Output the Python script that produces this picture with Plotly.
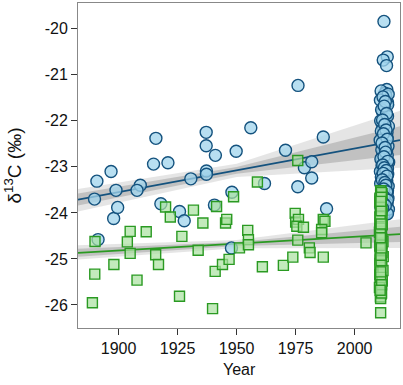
import plotly.graph_objects as go

# ---- Data ----
blue_years = [1890.8, 1889.8, 1896.8, 1898.9, 1897.9, 1899.6, 1891.3, 1909.2, 1907.8, 1915.8,
              1914.8, 1920.9, 1917.9, 1925.8, 1927.8, 1930.6, 1937.1, 1937.1, 1937.2, 1937.2,
              1941.0, 1940.6, 1949.8, 1948.0, 1947.8, 1956.0, 1961.8, 1970.7, 1976.0, 1975.9,
              1978.7, 1981.8, 1981.8, 1986.7, 1988.1]
blue_vals = [-23.31, -23.70, -23.10, -23.51, -24.12, -23.88, -24.58, -23.40, -23.51, -22.38,
             -22.94, -22.91, -23.80, -23.97, -24.17, -23.26, -22.25, -22.54, -23.09, -23.16,
             -22.75, -23.83, -22.66, -23.55, -24.76, -22.15, -23.36, -22.64, -21.23, -23.43,
             -23.02, -22.89, -23.24, -22.35, -23.91]

blue_recent_years = [2012.4, 2013.8, 2012.1, 2013.5, 2013.6, 2012.8, 2013.2, 2012.5, 2013.9, 2012.2,
                     2011.8, 2013.4, 2012.9, 2011.6, 2013.0, 2012.3, 2013.7, 2011.9, 2012.6, 2013.3,
                     2011.7, 2012.7, 2013.5, 2012.0, 2011.5, 2013.1, 2012.4, 2013.8, 2011.8, 2012.9,
                     2013.6, 2012.1, 2011.6, 2013.2, 2012.5, 2013.9, 2011.9, 2012.8, 2013.4, 2012.2,
                     2011.7, 2013.0, 2012.6, 2013.6, 2012.3,
                     2011.2, 2014.2, 2010.9, 2014.0, 2011.4, 2013.9, 2011.0, 2014.3, 2011.3, 2013.7,
                     2010.8, 2014.1, 2011.5, 2013.8, 2011.1, 2014.4, 2011.6, 2013.9, 2010.9, 2014.0,
                     2011.3, 2013.6, 2011.0, 2014.2, 2011.4, 2013.8, 2011.2, 2014.1, 2011.5, 2013.7,
                     2011.0, 2014.3, 2011.3, 2013.9,
                     2012.0, 2013.0, 2012.5, 2013.5, 2011.8, 2012.7, 2013.3, 2012.2, 2013.8, 2011.6,
                     2012.9, 2013.1, 2012.4, 2014.0, 2011.9, 2012.6, 2013.4, 2012.1, 2013.7, 2011.7,
                     2012.8, 2013.2, 2012.3, 2013.6, 2011.5, 2012.5, 2013.9, 2012.0, 2013.0, 2011.8]
blue_recent_vals = [-19.84, -20.61, -20.68, -20.80, -21.32, -21.40, -21.45, -21.52, -21.60, -21.72,
                    -21.80, -21.88, -21.95, -22.05, -22.10, -22.18, -22.25, -22.32, -22.38, -22.45,
                    -22.52, -22.60, -22.66, -22.72, -22.80, -22.86, -22.93, -23.00, -23.06, -23.12,
                    -23.18, -23.25, -23.32, -23.38, -23.45, -23.52, -23.58, -23.64, -23.70, -23.76,
                    -23.82, -23.88, -23.94, -24.00, -24.05,
                    -21.35, -21.42, -21.55, -21.65, -21.76, -21.90, -22.00, -22.12, -22.22, -22.35,
                    -22.42, -22.55, -22.63, -22.75, -22.83, -22.90, -22.97, -23.04, -23.10, -23.16,
                    -23.22, -23.30, -23.36, -23.42, -23.50, -23.56, -23.62, -23.68, -23.74, -23.80,
                    -23.86, -23.92, -23.98, -24.02,
                    -21.48, -21.58, -21.68, -21.84, -21.98, -22.08, -22.20, -22.28, -22.40, -22.48,
                    -22.58, -22.68, -22.78, -22.88, -22.96, -23.02, -23.08, -23.14, -23.20, -23.28,
                    -23.34, -23.40, -23.48, -23.54, -23.60, -23.66, -23.72, -23.78, -23.84, -23.90]

green_years = [1890.0, 1889.9, 1888.9, 1898.0, 1903.7, 1904.9, 1904.9, 1907.8, 1911.7, 1915.7,
               1916.9, 1919.9, 1921.9, 1926.8, 1925.8, 1931.7, 1933.7, 1935.7, 1941.5, 1940.9,
               1939.8, 1945.3, 1945.8, 1944.0, 1946.8, 1948.7, 1951.2, 1954.7, 1955.0, 1955.0,
               1958.8, 1960.9, 1969.8, 1973.8, 1975.9, 1974.8, 1975.0, 1976.2, 1975.5, 1975.9,
               1978.3, 1980.8, 1981.1, 1986.7, 1987.4, 1986.0, 1986.0, 1986.7, 2004.8]
green_vals = [-24.62, -25.33, -25.95, -25.12, -24.63, -24.40, -24.88, -25.46, -24.41, -24.91,
              -25.12, -23.87, -24.09, -24.51, -25.81, -23.94, -24.81, -24.22, -23.86, -25.27,
              -26.08, -24.22, -24.14, -25.12, -25.01, -23.65, -24.76, -24.38, -24.58, -24.69,
              -23.33, -25.17, -25.14, -24.96, -22.86, -24.01, -24.20, -24.14, -24.29, -24.59,
              -24.31, -24.76, -24.86, -24.14, -24.18, -24.36, -24.43, -24.96, -24.65]

green_recent_years = [2011.0, 2011.2, 2010.8, 2011.1, 2011.3, 2010.9, 2011.0, 2011.2, 2010.8, 2011.1,
                      2012.0, 2011.0, 2010.9, 2012.1, 2011.2, 2011.0, 2010.8, 2011.1, 2011.3, 2010.9,
                      2011.0, 2011.2, 2010.8, 2011.1, 2011.0, 2010.9, 2011.2, 2011.0, 2010.8, 2011.1,
                      2011.0, 2011.2, 2010.9, 2011.0, 2011.1, 2011.0,
                      2011.6, 2010.6, 2011.5, 2010.7, 2011.7, 2010.5, 2011.4, 2010.6, 2011.6, 2010.7,
                      2011.5, 2010.6, 2011.7, 2010.5, 2011.4, 2010.7, 2011.6, 2010.6, 2011.5, 2010.7,
                      2011.3, 2010.9, 2011.1, 2011.4, 2010.8, 2012.0, 2011.2, 2010.9, 2011.3, 2011.0,
                      2011.1, 2010.8, 2011.4, 2011.2, 2010.9, 2011.0, 2011.3, 2010.8, 2011.1, 2011.2]
green_recent_vals = [-23.52, -23.62, -23.72, -23.80, -23.90, -23.98, -24.06, -24.14, -24.22, -24.30,
                     -24.62, -24.38, -24.45, -24.95, -24.52, -24.60, -24.68, -24.75, -24.82, -24.90,
                     -24.98, -25.06, -25.14, -25.22, -25.30, -25.38, -25.45, -25.52, -25.58, -25.64,
                     -25.70, -25.76, -25.82, -25.86, -24.70, -26.17,
                     -23.58, -23.76, -23.94, -24.10, -24.26, -24.42, -24.56, -24.72, -24.86, -25.02,
                     -25.18, -25.34, -25.48, -25.62, -25.74, -23.68, -24.02, -24.34, -24.66, -25.10,
                     -23.55, -23.85, -24.18, -24.48, -24.78, -25.25, -25.04, -24.33, -23.66, -25.40,
                     -24.92, -24.08, -25.56, -23.95, -24.54, -25.28, -24.76, -25.68, -23.75, -24.24]

# regression fits (end points) and bootstrap envelopes
fit_years = [1882.8, 1950.0, 2019.2]
blue_fit = [-23.71, -23.075, -22.42]
blue_outer_hi = [-23.48, -22.93, -21.78]
blue_outer_lo = [-23.97, -23.22, -23.02]
blue_inner_hi = [-23.58, -23.00, -22.12]
blue_inner_lo = [-23.84, -23.15, -22.74]
green_fit = [-24.87, -24.67, -24.46]
green_outer_hi = [-24.70, -24.59, -24.14]
green_outer_lo = [-25.01, -24.77, -24.76]
green_inner_hi = [-24.78, -24.63, -24.30]
green_inner_lo = [-24.95, -24.72, -24.63]

BLUE_LINE = "#14527e"
BLUE_FILL = "rgba(160,212,236,0.75)"
GREEN_LINE = "#2a9a22"
GREEN_FILL = "rgba(170,225,160,0.7)"

fig = go.Figure()


def band(hi, lo, color):
    fig.add_trace(go.Scatter(
        x=fit_years + fit_years[::-1], y=hi + lo[::-1],
        fill="toself", fillcolor=color, line=dict(width=0),
        mode="lines", hoverinfo="skip", showlegend=False))


band(blue_outer_hi, blue_outer_lo, "rgba(170,170,170,0.30)")
band(blue_inner_hi, blue_inner_lo, "rgba(140,140,140,0.40)")
band(green_outer_hi, green_outer_lo, "rgba(170,170,170,0.30)")
band(green_inner_hi, green_inner_lo, "rgba(140,140,140,0.40)")

fig.add_trace(go.Scatter(x=fit_years, y=blue_fit, mode="lines",
                         line=dict(color=BLUE_LINE, width=1.8), showlegend=False))
fig.add_trace(go.Scatter(x=fit_years, y=green_fit, mode="lines",
                         line=dict(color=GREEN_LINE, width=1.8), showlegend=False))

fig.add_trace(go.Scatter(
    x=blue_years + blue_recent_years, y=blue_vals + blue_recent_vals, mode="markers",
    marker=dict(symbol="circle", size=12, color=BLUE_FILL,
                line=dict(color=BLUE_LINE, width=1.4)),
    showlegend=False))
fig.add_trace(go.Scatter(
    x=green_years + green_recent_years, y=green_vals + green_recent_vals, mode="markers",
    marker=dict(symbol="square", size=10, color=GREEN_FILL,
                line=dict(color=GREEN_LINE, width=1.4)),
    showlegend=False))

fig.update_layout(
    width=403, height=385,
    margin=dict(l=78, r=3, t=3, b=57),
    plot_bgcolor="white", paper_bgcolor="white",
    font=dict(family="Liberation Sans, Arial, sans-serif", size=16, color="#111"),
    showlegend=False,
    annotations=[dict(text="Year", xref="paper", yref="paper", x=0.5, y=-0.128,
                      xanchor="center", yanchor="middle", showarrow=False,
                      font=dict(size=16))],
)
fig.update_xaxes(
    range=[1882.8, 2019.2], tickvals=[1900, 1925, 1950, 1975, 2000],
    showgrid=False, zeroline=False, showline=True, mirror=True,
    linecolor="#888", linewidth=1, ticks="outside", ticklen=6, tickcolor="#333",
)
fig.update_yaxes(
    range=[-26.5, -19.44], tickvals=[-20, -21, -22, -23, -24, -25, -26],
    ticktext=["-20", "-21", "-22", "-23", "-24", "-25", "-26"],
    showgrid=False, zeroline=False, showline=True, mirror=True,
    linecolor="#888", linewidth=1, ticks="outside", ticklen=6, tickcolor="#333",
    title=dict(text="δ<sup>13</sup>C (‰)", standoff=18),
)

fig.write_html("out.html", config={"displayModeBar": False},
               post_script="document.body.style.margin='0';")
